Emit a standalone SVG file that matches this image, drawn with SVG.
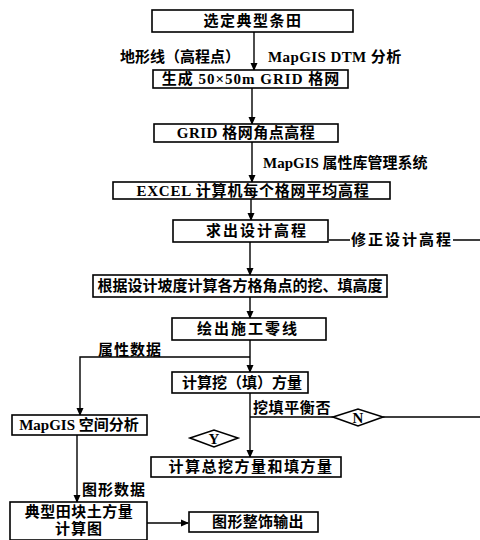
<svg xmlns="http://www.w3.org/2000/svg" width="480" height="540" viewBox="0 0 480 540">
<style>
.box{fill:#fff;stroke:#000;stroke-width:1.6}
.t{font-family:"Liberation Serif","Noto Sans CJK SC",serif;font-weight:bold;font-size:15px;fill:#000;dominant-baseline:central}
.c{text-anchor:middle}
.ln{fill:none;stroke:#000;stroke-width:1.4}
</style>
<defs>
<marker id="ah" markerWidth="8" markerHeight="8" refX="7" refY="4" orient="auto" markerUnits="userSpaceOnUse">
<path d="M0,0.5 L8,4 L0,7.5 Z" fill="#000"/>
</marker>
</defs>
<rect width="480" height="540" fill="#fff"/>
<g id="connectors">
<path class="ln" d="M254,32 V70" marker-end="url(#ah)"/>
<path class="ln" d="M252,88 V124" marker-end="url(#ah)"/>
<path class="ln" d="M252,142 V182" marker-end="url(#ah)"/>
<path class="ln" d="M251,199 V220" marker-end="url(#ah)"/>
<path class="ln" d="M250,242 V275" marker-end="url(#ah)"/>
<path class="ln" d="M250,297 V318" marker-end="url(#ah)"/>
<path class="ln" d="M250,340 V372" marker-end="url(#ah)"/>
<path class="ln" d="M250,357 H80 V415" marker-end="url(#ah)"/>
<path class="ln" d="M250,393 V457" marker-end="url(#ah)"/>
<path class="ln" d="M250,417 H333 M383,417 H480"/>
<path class="ln" d="M329,240 H350 M453,240 H480"/>
<path class="ln" d="M77,435 V502" marker-end="url(#ah)"/>
<path class="ln" d="M147,523 H188" marker-end="url(#ah)"/>
<text class="t" x="240" y="57" text-anchor="end">地形线（高程点）</text>
<text class="t" x="268" y="57" letter-spacing="0.4">MapGIS DTM 分析</text>
<text class="t" x="263" y="163">MapGIS 属性库管理系统</text>
<text class="t" x="351" y="240" letter-spacing="2">修正设计高程</text>
<text class="t" x="98" y="350" letter-spacing="1">属性数据</text>
<text class="t" x="253" y="408" letter-spacing="0.6">挖填平衡否</text>
<text class="t" x="82" y="490" letter-spacing="1">图形数据</text>
</g>
<g id="n1"><rect class="box" x="152" y="10" width="201" height="22"/><text class="t c" x="253" y="21" letter-spacing="1.5">选定典型条田</text></g>
<g id="n2"><rect class="box" x="153" y="70" width="195" height="18"/><text class="t c" x="251" y="79" letter-spacing="1">生成 50×50m GRID 格网</text></g>
<g id="n3"><rect class="box" x="154" y="124" width="184" height="18"/><text class="t c" x="246" y="133" letter-spacing="0.5">GRID 格网角点高程</text></g>
<g id="n4"><rect class="box" x="113" y="182" width="277" height="17"/><text class="t c" x="253" y="190.5" letter-spacing="0.8">EXCEL 计算机每个格网平均高程</text></g>
<g id="n5"><rect class="box" x="173" y="220" width="155" height="22"/><text class="t c" x="257" y="231" letter-spacing="2">求出设计高程</text></g>
<g id="n6"><rect class="box" x="93" y="275" width="294" height="22"/><text class="t c" x="240" y="286" font-size="14.6">根据设计坡度计算各方格角点的挖、填高度</text></g>
<g id="n7"><rect class="box" x="172" y="318" width="154" height="22"/><text class="t c" x="248" y="329" letter-spacing="2">绘出施工零线</text></g>
<g id="n8"><rect class="box" x="172" y="372" width="136" height="21"/><text class="t c" x="242" y="382.5">计算挖（填）方量</text></g>
<g id="n9"><rect class="box" x="12" y="415" width="135" height="20"/><text class="t c" x="79" y="425">MapGIS 空间分析</text></g>
<g id="dN"><path class="box" d="M333,417 L358,409 L383,417 L358,426 Z"/><text class="t c" x="358" y="417.5" font-size="13">N</text></g>
<g id="dY"><path class="box" d="M190,438 L214,430 L238,438 L214,447 Z"/><text class="t c" x="214" y="438.5" font-size="13">Y</text></g>
<g id="n10"><rect class="box" x="151" y="457" width="190" height="20"/><text class="t c" x="251" y="467" letter-spacing="1.5">计算总挖方量和填方量</text></g>
<g id="n11"><rect class="box" x="10" y="502" width="137" height="38"/><text class="t c" x="79" y="512" letter-spacing="0.5">典型田块土方量</text><text class="t c" x="79" y="529" letter-spacing="1">计算图</text></g>
<g id="n12"><rect class="box" x="189" y="512" width="129" height="20"/><text class="t c" x="258" y="522" letter-spacing="0.3">图形整饰输出</text></g>
</svg>
